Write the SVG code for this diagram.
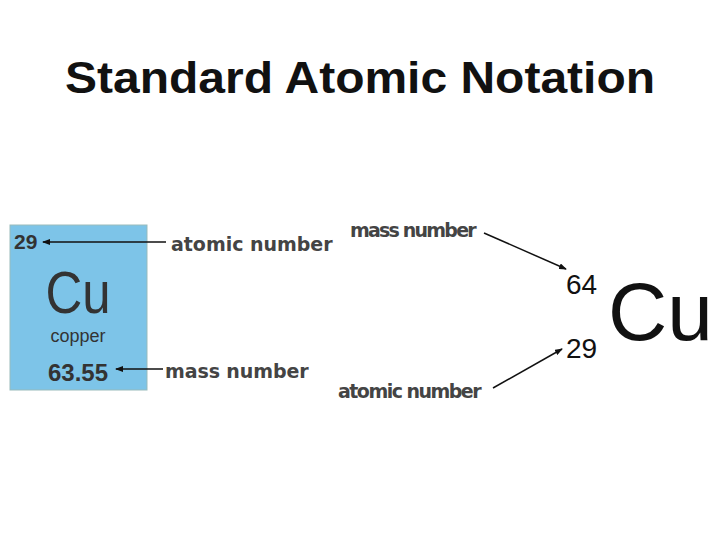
<svg xmlns="http://www.w3.org/2000/svg" width="720" height="540" viewBox="0 0 720 540">
<defs>
<marker id="ah" markerWidth="8" markerHeight="6" refX="7" refY="3" orient="auto" markerUnits="userSpaceOnUse"><path d="M0,0 L8,3 L0,6 z" fill="#111"/></marker>
<style>
.lbl{font-family:"DejaVu Sans",sans-serif;font-weight:bold;fill:#444;font-size:19px;letter-spacing:-0.6px}
.c{stroke:#111;stroke-width:1.5;fill:none;marker-end:url(#ah)}
.a{font-family:"Liberation Sans",Arial,sans-serif;fill:#111}
.b{font-family:"Liberation Sans",Arial,sans-serif;fill:#333}
</style>
</defs>
<rect width="720" height="540" fill="#fff"/>
<text x="65" y="93" class="a" font-size="44" font-weight="bold" textLength="590" lengthAdjust="spacingAndGlyphs">Standard Atomic Notation</text>
<g id="tile">
<rect x="10" y="225" width="137" height="165" fill="#7dc4e8" stroke="#9bb" stroke-width="1"/>
<text x="14" y="249" class="b" font-size="21" font-weight="bold">29</text>
<text x="78" y="313" text-anchor="middle" class="b" font-size="60" transform="translate(78 0) scale(0.85 1) translate(-78 0)">Cu</text>
<text x="78" y="342" text-anchor="middle" class="b" font-size="18">copper</text>
<text x="78" y="381" text-anchor="middle" class="b" font-size="24" font-weight="bold">63.55</text>
</g>
<g id="labels">
<text x="171" y="251" class="lbl" textLength="161">atomic number</text>
<text x="165" y="378" class="lbl" textLength="143">mass number</text>
<text x="350" y="237" class="lbl" font-size="17" textLength="126">mass number</text>
<text x="338" y="398" class="lbl" font-size="17" textLength="143">atomic number</text>
</g>
<g id="notation">
<text x="566" y="294" class="a" font-size="28">64</text>
<text x="566" y="358" class="a" font-size="28">29</text>
<text x="608" y="340" class="a" font-size="82">Cu</text>
</g>
<g id="connectors">
<path class="c" d="M166,242 H43"/>
<path class="c" d="M163,369 H116"/>
<path class="c" d="M484,233 L566,269"/>
<path class="c" d="M493,388 L562,349"/>
</g>
</svg>
